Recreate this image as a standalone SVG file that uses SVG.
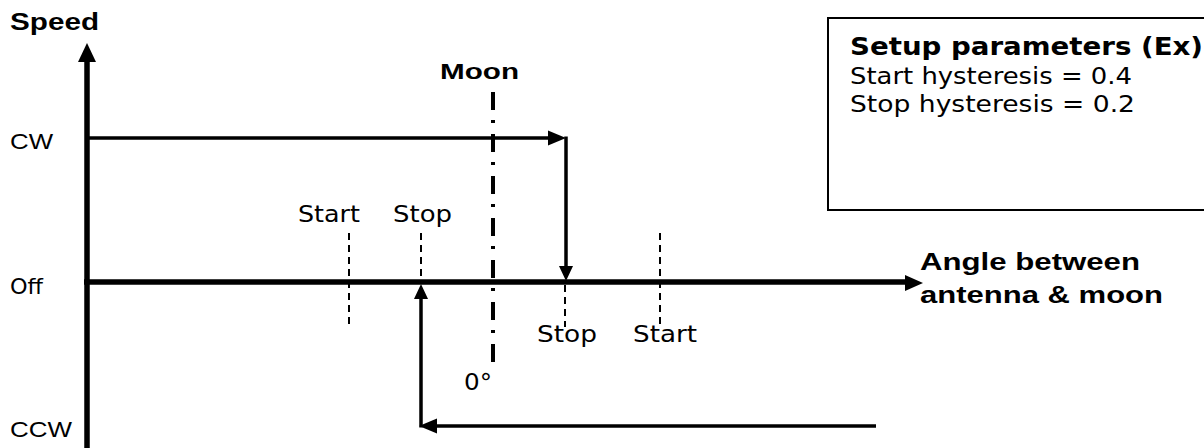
<svg xmlns="http://www.w3.org/2000/svg" width="1204" height="448" viewBox="0 0 1204 448">
  <style>
    .bold { font-family: "Liberation Sans", Arial, sans-serif; font-weight: bold; fill: #000; }
    .lab { font-family: "DejaVu Sans", Verdana, sans-serif; fill: #000; }
    .axl { font-family: "Liberation Sans", Arial, sans-serif; fill: #000; }
    .axis { stroke: #000; stroke-width: 5.5; fill: none; }
    .path { stroke: #000; stroke-width: 3.5; fill: none; }
    .mark { stroke: #000; stroke-width: 2; stroke-dasharray: 7 5; fill: none; }
    .moon { stroke: #000; stroke-width: 4; stroke-dasharray: 18 10 3 11; fill: none; }
    .head { fill: #000; }
  </style>

  <!-- axes -->
  <g id="axes">
    <line class="axis" x1="87" y1="60" x2="87" y2="448"/>
    <polygon class="head" points="87,43 78,62 96,62"/>
    <line class="axis" x1="84" y1="282" x2="906" y2="282"/>
    <polygon class="head" points="923,283 905,275 905,291"/>
  </g>

  <!-- axis labels -->
  <g id="labels">
    <text class="bold" x="10" y="30" font-size="23" textLength="89" lengthAdjust="spacingAndGlyphs">Speed</text>
    <text class="axl" x="10" y="149" font-size="22" textLength="43" lengthAdjust="spacingAndGlyphs">CW</text>
    <text class="lab" x="10" y="294" font-size="22" textLength="33" lengthAdjust="spacingAndGlyphs">Off</text>
    <text class="axl" x="10" y="437" font-size="22" textLength="62" lengthAdjust="spacingAndGlyphs">CCW</text>
    <text class="bold" x="920" y="270" font-size="23" textLength="220" lengthAdjust="spacingAndGlyphs">Angle between</text>
    <text class="bold" x="920" y="303" font-size="23" textLength="243" lengthAdjust="spacingAndGlyphs">antenna &amp; moon</text>
  </g>

  <!-- moon reference line -->
  <g id="moon">
    <line class="moon" x1="493" y1="92" x2="493" y2="370"/>
    <text class="bold" x="440" y="79" font-size="22" textLength="79" lengthAdjust="spacingAndGlyphs">Moon</text>
    <text class="lab" x="464" y="390" font-size="23" textLength="28" lengthAdjust="spacingAndGlyphs">0°</text>
  </g>

  <!-- hysteresis thresholds -->
  <g id="thresholds">
    <line class="mark" x1="349" y1="233" x2="349" y2="326"/>
    <line class="mark" x1="421" y1="233" x2="421" y2="283"/>
    <line class="mark" x1="565" y1="285" x2="565" y2="327"/>
    <line class="mark" x1="660" y1="233" x2="660" y2="327"/>
    <text class="lab" x="298" y="222" font-size="23" textLength="62" lengthAdjust="spacingAndGlyphs">Start</text>
    <text class="lab" x="393" y="222" font-size="23" textLength="59" lengthAdjust="spacingAndGlyphs">Stop</text>
    <text class="lab" x="537" y="342" font-size="23" textLength="60" lengthAdjust="spacingAndGlyphs">Stop</text>
    <text class="lab" x="633" y="342" font-size="23" textLength="64" lengthAdjust="spacingAndGlyphs">Start</text>
  </g>

  <!-- speed transitions -->
  <g id="connectors">
    <line class="path" x1="87" y1="138" x2="550" y2="138"/>
    <polygon class="head" points="566,138 548,130.5 548,145.5"/>
    <line class="path" x1="566" y1="136.5" x2="566" y2="268"/>
    <polygon class="head" points="566,281 559,266 573,266"/>
    <line class="path" x1="876" y1="426" x2="436" y2="426"/>
    <polygon class="head" points="419,426 437,418.5 437,433.5"/>
    <line class="path" x1="421" y1="427.5" x2="421" y2="297"/>
    <polygon class="head" points="421,284 414,299 428,299"/>
  </g>

  <!-- setup parameter box -->
  <g id="setup">
    <rect x="828" y="18" width="390" height="192" fill="#fff" stroke="#000" stroke-width="2"/>
    <text class="lab" x="850" y="55" font-size="25" font-weight="bold" textLength="353" lengthAdjust="spacingAndGlyphs">Setup parameters (Ex)</text>
    <text class="lab" x="850" y="84" font-size="23" textLength="282" lengthAdjust="spacingAndGlyphs">Start hysteresis = 0.4</text>
    <text class="lab" x="850" y="112" font-size="23" textLength="285" lengthAdjust="spacingAndGlyphs">Stop hysteresis = 0.2</text>
  </g>
</svg>
